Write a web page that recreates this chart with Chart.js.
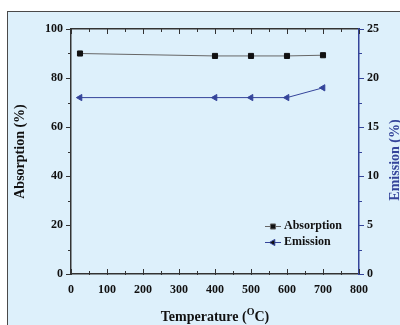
<!DOCTYPE html>
<html lang="en">
<head>
    <meta charset="UTF-8">
    <title>Absorption / Emission vs Temperature</title>
    <style type="text/css">
        html, body { margin: 0; padding: 0; background: #ffffff; }
        .frame {
            position: absolute;
            left: 7px;
            top: 11px;
            width: 393px;
            height: 314px;
            background: #ddf0fb;
            border-left: 1.5px solid #4a4a4a;
            border-top: 1.5px solid #4a4a4a;
        }
        .chartBox {
            position: absolute;
            left: 0;
            top: 0;
            width: 400px;
            height: 325px;
        }
    </style>
</head>
<body>
    <div class="frame"></div>
    <div class="chartBox">
        <canvas id="myChart" width="400" height="325"></canvas>
    </div>

    <script src="https://cdn.jsdelivr.net/npm/chart.js"></script>

    <script>
    // data block
    const temps = [25, 400, 500, 600, 700];
    const absorption = [90, 89, 89, 89, 89.3];
    const emission = [18, 18, 18, 18, 19];

    const xTickValues = [0, 100, 200, 300, 400, 500, 600, 700, 800];
    const leftTickValues = [0, 20, 40, 60, 80, 100];
    const rightTickValues = [0, 5, 10, 15, 20, 25];

    const seriesNames = ['Absorption', 'Emission'];

    const blue = '#34449a';
    const serif = "'Liberation Serif', 'DejaVu Serif', serif";

    // draws the small axis ticks (major + minor), titles on right/bottom, and legend
    const decorPlugin = {
        id: 'decor',
        afterDraw(chart) {
            const ctx = chart.ctx;
            const x = chart.scales.x, y = chart.scales.y, y1 = chart.scales.y1;
            const area = chart.chartArea;
            ctx.save();
            ctx.lineWidth = 1;

            // x ticks: top (inward) and bottom (inward)
            ctx.strokeStyle = '#333';
            for (let v = 0; v <= 800; v += 50) {
                const px = Math.round(x.getPixelForValue(v)) + 0.5;
                const len = v % 100 === 0 ? 5 : 3;
                ctx.beginPath();
                ctx.moveTo(px, area.top);
                ctx.lineTo(px, area.top + len);
                ctx.moveTo(px, area.bottom + 1);
                ctx.lineTo(px, area.bottom - len);
                ctx.stroke();
            }
            // left ticks (outward)
            for (let v = 0; v <= 100; v += 10) {
                const py = Math.round(y.getPixelForValue(v)) + 0.5;
                const len = v % 20 === 0 ? 5 : 3;
                ctx.beginPath();
                ctx.moveTo(area.left, py);
                ctx.lineTo(area.left - len, py);
                ctx.stroke();
            }
            // right ticks (outward, blue)
            ctx.strokeStyle = blue;
            for (let v = 0; v <= 25; v += 2.5) {
                const py = Math.round(y1.getPixelForValue(v)) + 0.5;
                const len = v % 5 === 0 ? 5 : 3;
                ctx.beginPath();
                ctx.moveTo(area.right, py);
                ctx.lineTo(area.right + len, py);
                ctx.stroke();
            }

            // bottom title with superscript
            ctx.fillStyle = '#111';
            ctx.textBaseline = 'alphabetic';
            const big = 'bold 14px ' + serif, small = 'bold 10px ' + serif;
            const parts = [['Temperature (', big, 0], ['O', small, -6], ['C)', big, 0]];
            let total = 0;
            parts.forEach(p => { ctx.font = p[1]; total += ctx.measureText(p[0]).width; });
            let tx = (area.left + area.right) / 2 - total / 2;
            parts.forEach(p => {
                ctx.font = p[1];
                ctx.fillText(p[0], tx, 321 + p[2]);
                tx += ctx.measureText(p[0]).width;
            });

            // right title, rotated the same way as the left one (partly off the edge)
            ctx.save();
            ctx.translate(395, 160);
            ctx.rotate(-Math.PI / 2);
            ctx.font = 'bold 14px ' + serif;
            ctx.fillStyle = blue;
            ctx.textAlign = 'center';
            ctx.textBaseline = 'middle';
            ctx.fillText('Emission (%)', 0, 0);
            ctx.restore();

            // legend
            const rows = [226, 242];
            chart.data.datasets.forEach((ds, i) => {
                const ly = rows[i];
                ctx.strokeStyle = ds.borderColor;
                ctx.beginPath();
                ctx.moveTo(265, ly + 0.5);
                ctx.lineTo(281, ly + 0.5);
                ctx.stroke();
                Chart.helpers.drawPoint(ctx, {
                    pointStyle: ds.pointStyle,
                    radius: ds.pointRadius,
                    rotation: ds.rotation || 0,
                    borderWidth: 1
                }, 273, ly + 0.5);
                ctx.fillStyle = '#111';
                ctx.font = 'bold 12px ' + serif;
                ctx.textAlign = 'left';
                ctx.textBaseline = 'middle';
                ctx.fillText(ds.label, 284, ly);
            });
            ctx.restore();
        }
    };

    const data = {
        datasets: [{
            label: seriesNames[0],
            data: temps.map((t, i) => ({ x: t, y: absorption[i] })),
            yAxisID: 'y',
            borderColor: '#666666',
            backgroundColor: '#111111',
            pointBackgroundColor: '#111111',
            pointBorderColor: '#111111',
            pointStyle: 'rect',
            pointRadius: 3.6,
            borderWidth: 1
        }, {
            label: seriesNames[1],
            data: temps.map((t, i) => ({ x: t, y: emission[i] })),
            yAxisID: 'y1',
            borderColor: blue,
            backgroundColor: blue,
            pointBackgroundColor: blue,
            pointBorderColor: blue,
            pointStyle: 'triangle',
            rotation: -90,
            pointRotation: -90,
            pointRadius: 3.6,
            borderWidth: 1
        }]
    };

    const tickFont = { family: serif, size: 12, weight: 'bold' };

    const config = {
        type: 'line',
        data,
        plugins: [decorPlugin],
        options: {
            responsive: false,
            animation: false,
            events: [],
            layout: { padding: { top: 29, left: 0, right: 0, bottom: 0 } },
            plugins: {
                legend: { display: false },
                tooltip: { enabled: false }
            },
            scales: {
                x: {
                    type: 'linear',
                    min: 0,
                    max: 800,
                    afterBuildTicks: s => { s.ticks = xTickValues.map(v => ({ value: v })); },
                    afterFit: s => { s.height = 51; },
                    grid: { display: false },
                    border: { display: true, color: '#333', width: 1.5 },
                    ticks: { color: '#111', font: tickFont, padding: 1, maxRotation: 0 }
                },
                xTop: {
                    type: 'linear',
                    position: 'top',
                    min: 0,
                    max: 800,
                    afterFit: s => { s.height = 0; },
                    grid: { display: false },
                    border: { display: true, color: '#333', width: 1.5 },
                    ticks: { display: false }
                },
                y: {
                    type: 'linear',
                    position: 'left',
                    min: 0,
                    max: 100,
                    afterBuildTicks: s => { s.ticks = leftTickValues.map(v => ({ value: v })); },
                    afterFit: s => { s.width = 71; },
                    grid: { display: false },
                    border: { display: true, color: '#333', width: 1.5 },
                    ticks: { color: '#111', font: tickFont, padding: 0 },
                    title: {
                        display: true,
                        text: 'Absorption (%)',
                        color: '#111',
                        font: { family: serif, size: 14, weight: 'bold' },
                        padding: { top: 12, bottom: 0 }
                    }
                },
                y1: {
                    type: 'linear',
                    position: 'right',
                    min: 0,
                    max: 25,
                    afterBuildTicks: s => { s.ticks = rightTickValues.map(v => ({ value: v })); },
                    afterFit: s => { s.width = 41; },
                    grid: { display: false },
                    border: { display: true, color: blue, width: 1.5 },
                    ticks: { color: '#111', font: tickFont, padding: 0 }
                }
            }
        }
    };

    const myChart = new Chart(document.getElementById('myChart'), config);
    </script>
</body>
</html>
